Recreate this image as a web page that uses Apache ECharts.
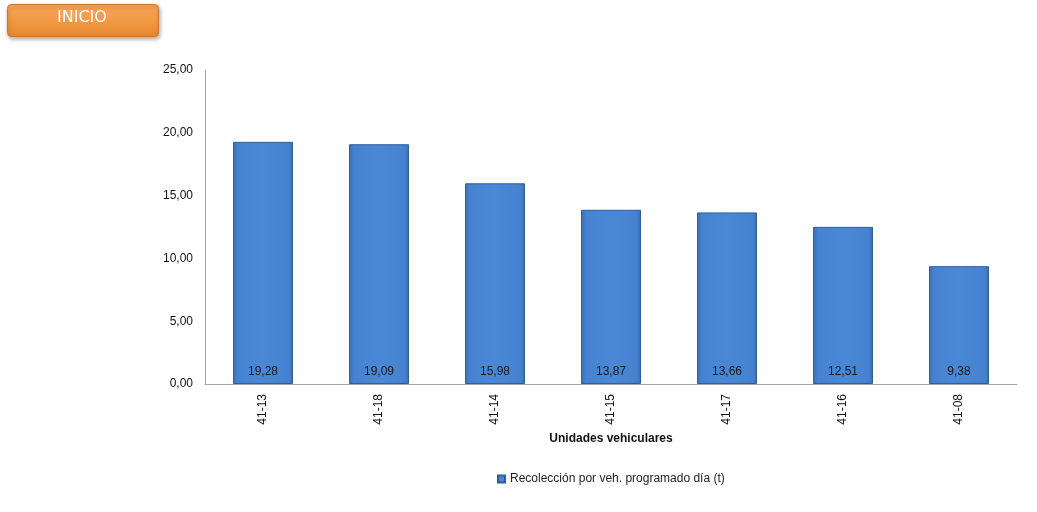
<!DOCTYPE html>
<html><head><meta charset="utf-8">
<script src="https://cdn.jsdelivr.net/npm/echarts@6/dist/echarts.min.js"></script>
<style>html,body{margin:0;padding:0;background:#fff}#c{width:1037px;height:512px}</style>
</head><body><div id="c"></div>
<script>
const categories = ['41-13','41-18','41-14','41-15','41-17','41-16','41-08'];
const values = [19.28, 19.09, 15.98, 13.87, 13.66, 12.51, 9.38];
const seriesName = 'Recolección por veh. programado día (t)';
const axisName = 'Unidades vehiculares';

const fmt = v => v.toFixed(2).replace('.', ',');
const chart = echarts.init(document.getElementById('c'));
const barGrad = new echarts.graphic.LinearGradient(0,0,1,0,[
  {offset:0,color:'#3A6FB5'},{offset:0.08,color:'#4682CF'},{offset:0.5,color:'#4A88D6'},{offset:0.92,color:'#4682CF'},{offset:1,color:'#3A6FB5'}]);
chart.setOption({
  animation:false,
  textStyle:{fontFamily:'Liberation Sans, Arial, sans-serif'},
  grid:{left:205,right:20,top:70,bottom:128},
  graphic:[
    {type:'rect',left:7,top:4,shape:{width:151,height:32,r:4},
     style:{fill:new echarts.graphic.LinearGradient(0,0,0,1,[{offset:0,color:'#F9A65A'},{offset:0.5,color:'#F39A45'},{offset:1,color:'#E8862E'}]),
       stroke:'#D07628',lineWidth:1,shadowBlur:4,shadowColor:'rgba(0,0,0,0.35)',shadowOffsetX:1,shadowOffsetY:2}},
    {type:'text',left:57,top:10,style:{text:'INICIO',fill:'#fff',font:'16px "DejaVu Sans", Arial, sans-serif'}}
  ],
  legend:{bottom:22,left:492,itemWidth:7,itemHeight:7,icon:'rect',
    textStyle:{fontSize:12,color:'#222'},data:[seriesName]},
  xAxis:{type:'category',data:categories,name:axisName,nameLocation:'middle',nameGap:49,
    nameTextStyle:{fontWeight:'bold',fontSize:12,color:'#111'},
    axisLine:{lineStyle:{color:'#A6A6A6'}},axisTick:{show:false},
    axisLabel:{rotate:90,color:'#111',fontSize:12,margin:10}},
  yAxis:{type:'value',min:0,max:25,interval:5,
    axisLine:{show:true,lineStyle:{color:'#A6A6A6'}},axisTick:{show:false},splitLine:{show:false},
    axisLabel:{formatter:v=>fmt(v),color:'#111',fontSize:12,margin:12}},
  series:[{name:seriesName,type:'bar',data:values,barWidth:60,
    itemStyle:{color:barGrad,borderColor:'#2F5E9E',borderWidth:1},
    label:{show:true,position:'insideBottom',distance:6,formatter:p=>fmt(p.value),color:'#1a1a1a',fontSize:12}}]
});
</script></body></html>
